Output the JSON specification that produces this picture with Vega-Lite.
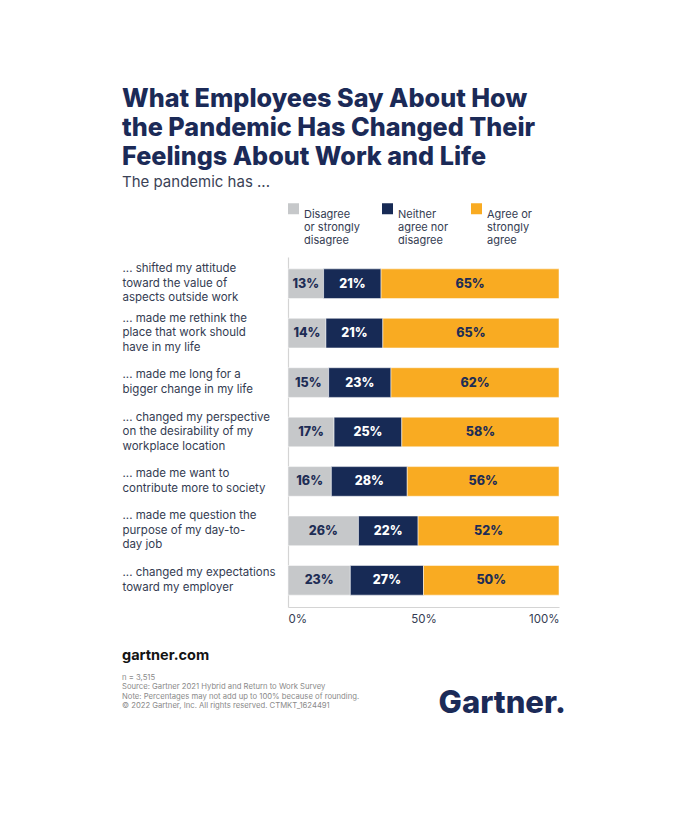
{
  "$schema": "https://vega.github.io/schema/vega-lite/v6.json",
  "background": "white",
  "padding": {"left": 122, "top": 86, "right": 20, "bottom": 20},
  "title": {
    "text": ["What Employees Say About How", "the Pandemic Has Changed Their", "Feelings About Work and Life"],
    "subtitle": "The pandemic has ...",
    "anchor": "start",
    "frame": "bounds",
    "font": "Inter",
    "fontSize": 25.2,
    "fontWeight": 800,
    "lineHeight": 29,
    "color": "#1b2a57",
    "subtitleFont": "Inter",
    "subtitleFontSize": 15,
    "subtitleColor": "#3b4256",
    "subtitlePadding": 5,
    "offset": 13
  },
  "config": {"view": {"stroke": null}, "font": "Inter"},
  "spacing": 23,
  "vconcat": [
    {
      "width": 271,
      "height": 350,
      "data": {
        "values": [
          {"item": "... shifted my attitude|toward the value of|aspects outside work", "cat": "Disagree|or strongly|disagree", "k": 1, "pct": 13},
          {"item": "... shifted my attitude|toward the value of|aspects outside work", "cat": "Neither|agree nor|disagree", "k": 2, "pct": 21},
          {"item": "... shifted my attitude|toward the value of|aspects outside work", "cat": "Agree or|strongly|agree", "k": 3, "pct": 65},
          {"item": "... made me rethink the|place that work should|have in my life", "cat": "Disagree|or strongly|disagree", "k": 1, "pct": 14},
          {"item": "... made me rethink the|place that work should|have in my life", "cat": "Neither|agree nor|disagree", "k": 2, "pct": 21},
          {"item": "... made me rethink the|place that work should|have in my life", "cat": "Agree or|strongly|agree", "k": 3, "pct": 65},
          {"item": "... made me long for a|bigger change in my life", "cat": "Disagree|or strongly|disagree", "k": 1, "pct": 15},
          {"item": "... made me long for a|bigger change in my life", "cat": "Neither|agree nor|disagree", "k": 2, "pct": 23},
          {"item": "... made me long for a|bigger change in my life", "cat": "Agree or|strongly|agree", "k": 3, "pct": 62},
          {"item": "... changed my perspective|on the desirability of my|workplace location", "cat": "Disagree|or strongly|disagree", "k": 1, "pct": 17},
          {"item": "... changed my perspective|on the desirability of my|workplace location", "cat": "Neither|agree nor|disagree", "k": 2, "pct": 25},
          {"item": "... changed my perspective|on the desirability of my|workplace location", "cat": "Agree or|strongly|agree", "k": 3, "pct": 58},
          {"item": "... made me want to|contribute more to society", "cat": "Disagree|or strongly|disagree", "k": 1, "pct": 16},
          {"item": "... made me want to|contribute more to society", "cat": "Neither|agree nor|disagree", "k": 2, "pct": 28},
          {"item": "... made me want to|contribute more to society", "cat": "Agree or|strongly|agree", "k": 3, "pct": 56},
          {"item": "... made me question the|purpose of my day-to-|day job", "cat": "Disagree|or strongly|disagree", "k": 1, "pct": 26},
          {"item": "... made me question the|purpose of my day-to-|day job", "cat": "Neither|agree nor|disagree", "k": 2, "pct": 22},
          {"item": "... made me question the|purpose of my day-to-|day job", "cat": "Agree or|strongly|agree", "k": 3, "pct": 52},
          {"item": "... changed my expectations|toward my employer", "cat": "Disagree|or strongly|disagree", "k": 1, "pct": 23},
          {"item": "... changed my expectations|toward my employer", "cat": "Neither|agree nor|disagree", "k": 2, "pct": 27},
          {"item": "... changed my expectations|toward my employer", "cat": "Agree or|strongly|agree", "k": 3, "pct": 50}
        ]
      },
      "encoding": {
        "y": {
          "field": "item",
          "type": "nominal",
          "sort": null,
          "scale": {"paddingInner": 0.4, "paddingOuter": 0.24},
          "axis": {
            "title": null,
            "labelExpr": "split(datum.label, '|')",
            "labelAlign": "left",
            "labelBaseline": "middle",
            "labelOffset": {"condition": {"test": "length(split(datum.value, '|')) == 3", "value": -14.5}, "value": -7.25},
            "labelPadding": 166,
            "ticks": false,
            "tickSize": 0,
            "labelFont": "Inter",
            "labelFontSize": 11.5,
            "labelLineHeight": 14.5,
            "labelColor": "#343c52",
            "labelLimit": 200,
            "domainColor": "#d4d4d4",
            "domainWidth": 1.2
          }
        },
        "x": {
          "field": "pct",
          "type": "quantitative",
          "stack": "normalize",
          "axis": {
            "title": null,
            "values": [0, 0.5, 1],
            "format": ".0%",
            "grid": false,
            "ticks": false,
            "tickSize": 0,
            "labelPadding": 6,
            "labelFont": "Inter",
            "labelFontSize": 11.5,
            "labelColor": "#343c52",
            "domainColor": "#d4d4d4",
            "domainWidth": 1.2
          }
        },
        "order": {"field": "k", "type": "quantitative"}
      },
      "layer": [
        {
          "mark": {"type": "bar", "stroke": "white", "strokeWidth": 0.5},
          "encoding": {
            "color": {
              "field": "cat",
              "type": "nominal",
              "sort": null,
              "scale": {
                "domain": ["Disagree|or strongly|disagree", "Neither|agree nor|disagree", "Agree or|strongly|agree"],
                "range": ["#c6c8ca", "#172a55", "#f9ab22"]
              },
              "legend": {
                "title": null,
                "orient": "top",
                "direction": "horizontal",
                "columns": 3,
                "columnPadding": 22,
                "offset": 11,
                "symbolType": "square",
                "symbolSize": 121,
                "symbolStrokeWidth": 0,
                "symbolOpacity": 1,
                "labelExpr": "split(datum.label, '|')",
                "labelBaseline": "top",
                "labelFont": "Inter",
                "labelFontSize": 11,
                "labelLineHeight": 12.3,
                "labelColor": "#343c52",
                "labelOffset": 5,
                "labelLimit": 200
              }
            }
          }
        },
        {
          "mark": {"type": "text", "font": "Inter", "fontSize": 12.5, "fontWeight": 800, "baseline": "middle"},
          "encoding": {
            "x": {"field": "pct", "type": "quantitative", "stack": "normalize", "bandPosition": 0.5},
            "detail": {"field": "cat"},
            "text": {"value": {"expr": "datum.pct + '%'"}},
            "color": {
              "condition": {"test": "datum.k == 2", "value": "white"},
              "value": "#1e2d55"
            }
          }
        }
      ]
    },
    {
      "spacing": 0,
      "hconcat": [
        {
          "width": 150,
          "height": 0,
          "title": {
            "text": "gartner.com",
            "subtitle": ["n = 3,515", "Source: Gartner 2021 Hybrid and Return to Work Survey", "Note: Percentages may not add up to 100% because of rounding.", "\u00a9 2022 Gartner, Inc. All rights reserved. CTMKT_1624491"],
            "anchor": "start",
            "dx": -166,
            "font": "Inter",
            "fontSize": 14.5,
            "fontWeight": 700,
            "color": "#141414",
            "subtitleFont": "Inter",
            "subtitleFontSize": 7.7,
            "subtitleLineHeight": 9.6,
            "subtitleColor": "#8a8a8a",
            "subtitlePadding": 10,
            "offset": 0
          },
          "data": {"values": []},
          "mark": "text",
          "encoding": {}
        },
        {
          "width": 114,
          "height": 0,
          "title": {
            "text": "Gartner.",
            "anchor": "end",
            "dy": 9,
            "font": "Inter",
            "fontSize": 31,
            "fontWeight": 800,
            "color": "#1b2a57",
            "offset": 0
          },
          "data": {"values": []},
          "mark": "text",
          "encoding": {}
        }
      ]
    }
  ]
}
